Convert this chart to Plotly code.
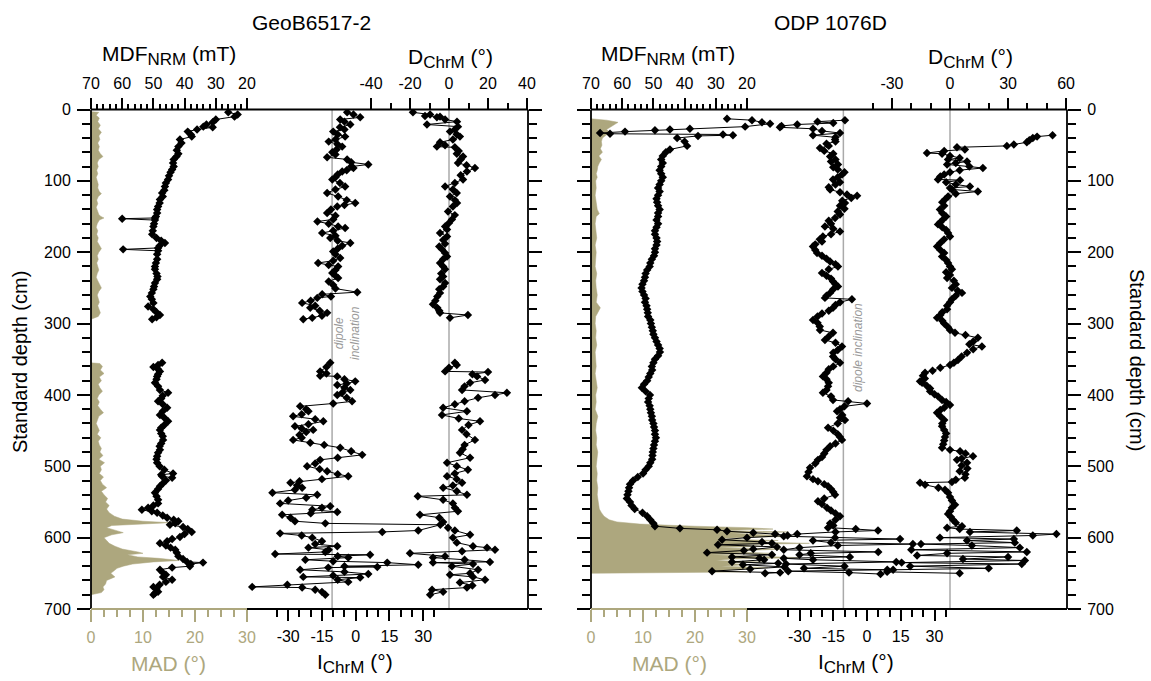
import plotly.graph_objects as go

# ---------------- data (depth cm, value) ----------------
geob_mad_upper = [(3,0),(4,1.5),(8,1.0),(12,1.6),(17,1.3),(22,1.8),(27,1.4),(32,2.0),(37,1.5),(42,1.7),(47,1.3),(52,1.6),
    (57,1.4),(62,1.8),(66,2.3),(70,1.5),(75,1.2),(80,1.4),(85,1.1),(90,1.3),(95,1.0),(100,1.2),(105,1.4),(110,1.3),
    (115,1.6),(118,2.0),(122,1.4),(127,1.1),(132,1.3),(137,1.0),(142,1.2),(147,1.5),(150,1.9),(152,2.5),(155,1.6),
    (160,1.2),(165,1.0),(170,1.3),(175,1.1),(180,1.4),(185,1.2),(190,1.6),(195,2.0),(200,1.5),(205,1.2),(210,1.4),
    (215,1.1),(220,1.3),(225,1.5),(230,1.2),(235,1.0),(240,1.3),(245,1.6),(250,2.0),(255,1.5),(260,1.2),(265,1.4),
    (270,1.6),(275,1.3),(280,1.5),(285,1.8),(290,1.4),(294,0)]
geob_mad_lower = [(355,0),(356,1.7),(360,2.2),(365,1.8),(370,2.5),(375,1.6),(380,2.0),(385,1.4),(390,1.7),(395,2.2),
    (400,1.5),(405,1.2),(410,1.6),(415,1.3),(420,1.8),(425,2.4),(430,1.5),(435,1.2),(440,1.0),(445,1.3),(450,1.6),
    (455,1.2),(460,1.9),(465,1.4),(470,1.6),(475,2.0),(480,1.7),(485,2.3),(490,1.5),(495,2.6),(500,1.8),(505,2.0),
    (510,1.6),(515,2.4),(520,1.8),(525,2.2),(530,3.0),(535,2.0),(540,2.5),(545,3.2),(550,2.8),(555,3.5),(560,3.0),
    (565,3.5),(570,4.5),(574,6),(577,10),(579,15.2),(581,9),(583,4),(586,3),(590,5),(593,6.2),(596,4),(600,2.5),
    (604,3),(608,3.5),(612,4.6),(616,6),(620,9),(622,10),(624,7),(627,9),(629,13),(631,15.2),(632,17),(634,12),
    (637,8),(640,6.2),(643,5),(646,4.5),(650,3.8),(655,4.6),(660,3),(665,2.8),(669,2.3),(673,2.5),(677,2),(680,0)]

geob_mdf_upper = [(4,26),(7,23),(10,24),(14,30),(18,31),(21,33),(24,34),(25,31),(28,36),(31,39),(35,38),(38,37.7),
    (42,41.5),(47,41),(52,42),(57,42.5),(62,42),(66,42.6),(70,43.5),(75,43.7),(80,43.5),(84,44),(88,44.5),(93,45),
    (98,45.3),(103,46),(108,46.3),(113,46.5),(117,47.2),(122,47),(126,47.9),(131,48),(136,48.5),(140,48.8),(145,48.8),
    (150,49.2),(152,49.5),(153,60),(155,49.5),(160,49.8),(164,50),(170,50.2),(175,50.4),(180,49),(184,47.5),(187,46.3),
    (191,48),(194,48.5),(196,59.7),(198,48.5),(203,48.8),(210,48.8),(215,49.2),(220,49.5),(224,49.5),(230,49),
    (234,48.7),(238,48.8),(243,49.5),(248,49.8),(252,50),(257,50.5),(262,51),(266,50.5),(271,50),(276,51.7),(280,50),
    (284,49),(288,47.9),(291,49),(294,50.4)]
geob_mdf_lower = [(355,47.2),(358,48.5),(361,50),(364,48.5),(367,47.9),(371,48.5),(374,48.8),(378,49),(383,49.5),
    (388,48.5),(393,47.9),(397,45.3),(401,47),(405,47.5),(409,48.5),(413,47),(418,45.6),(423,47),(428,47.9),(432,46.5),
    (437,45.3),(442,46.5),(446,47.5),(449,47.9),(454,47.5),(458,47),(463,46.9),(468,47.5),(472,48),(477,47.9),
    (481,48.5),(486,48.8),(490,49),(495,48.8),(500,48),(505,46.5),(510,43.7),(512,47.5),(514,47.2),(516,44),(520,46),
    (524,47),(528,47.9),(532,48.5),(537,49.5),(542,49),(547,48.5),(552,48.5),(555,50),(558,51.7),(561,53.7),(563,50.5),
    (565,48.8),(569,47),(572,45.6),(575,43.5),(577,42),(580,43),(582,44.7),(585,40.5),(588,39),(592,37.7),(595,40),
    (599,41.5),(602,44),(605,45.6),(608,47.9),(611,46),(614,44.5),(617,43),(621,42.5),(626,42),(630,40.5),(634,39.2),
    (635,34.1),(637,38),(640,38.3),(642,44),(645,47.9),(649,47),(652,46),(655,46.9),(659,44),(662,46),(666,48),
    (669,50),(672,49),(676,48.5),(678,49.5),(680,50)]

geob_inc_upper = [(4,-3.8),(7,-1),(11,2),(14,-6.9),(17,-5),(21,-2.4),(25,-7),(28,-5),(31,-10),(35,-8),(38,-4.7),
    (42,-9),(45,-12),(49,-8),(52,-6),(56,-8.5),(60,-10.4),(63,-9),(67,-12.7),(70,-3.8),(74,-2),(77,5.6),(80,-2),
    (82,-1),(85,-4),(87,-6),(91,-8),(95,-9),(98,-10.4),(103,-7),(108,-4.7),(112,-9),(117,-12.7),(122,-7.8),(127,-4),
    (131,-0.2),(134,-5),(136,-8.2),(140,-11),(145,-12.7),(149,-9),(154,-10),(157,-17),(160,-12),(164,-7.8),(166,-4.7),
    (170,-10),(173,-14.9),(177,-9),(180,-11.3),(184,-8),(187,-2.4),(191,-6),(195,-8),(199,-10),(203,-9),(208,-6.9),
    (212,-10),(215,-16.7),(218,-12),(220,-7.8),(225,-9),(229,-10.4),(233,-9),(236,-7.8),(241,-12),(246,-10),(251,-9),
    (256,0.7),(259,-14.9),(262,-11),(264,-17.1),(268,-20),(271,-23.8),(275,-18),(278,-20.2),(282,-16),(285,-12.7),
    (289,-15),(292,-19.3),(294,-23.3)]
geob_inc_lower = [(355,-11.3),(361,-13),(367,-15.8),(370,-13),(373,-15.8),(374,-8.2),(378,-5),(381,-0.2),(384,-4),
    (386,-8.2),(390,-5),(393,-2.4),(397,-6),(400,-8.2),(404,-4),(409,-1.6),(412,-10),(416,-24.7),(420,-22),(423,-21),
    (427,-24),(430,-27.8),(434,-18),(437,-14.4),(441,-21),(444,-27),(447,-24),(449,-18.9),(452,-22),(456,-25),
    (460,-24),(463,-27.8),(467,-20.2),(470,-14),(474,-6.9),(479,-2),(484,2.9),(488,-8),(491,-15.8),(496,-18),
    (500,-21.6),(504,-16),(507,-12.7),(511,-8),(514,-3.3),(518,-15),(521,-25),(523,-29),(527,-26),(530,-23.8),
    (533,-27),(537,-37),(540,-17.1),(544,-22),(548,-30),(552,-33.6),(556,-11.3),(558,-15),(561,-19.3),(564,-8.2),
    (566,-20),(568,-32.7),(572,-29),(577,-27),(580,-13.5),(582,37.6),(590,27.8),(592,11.8),(594,-33.6),(597,-24),
    (600,-19.3),(605,-15),(609,-18),(612,-8.2),(614,-21),(617,-12),(620,-13.5),(623,-35.8),(624,6.4),(626,-8),
    (628,-3.3),(631,-22.4),(633,-10),(635,14),(638,27.8),(640,-5),(641,9.6),(642,-12.2),(645,-24.7),(648,-5),
    (651,5.6),(653,-10),(655,-23.3),(656,2),(659,-8),(662,-3.3),(666,-30.4),(669,-46),(670,-23.8),(673,-18),
    (676,-15),(680,-13.5)]

geob_dec_upper = [(4,-18.5),(7,-9.7),(9,-12.3),(10,-4.6),(11,-6.2),(14,-2),(17,4.1),(21,-11.3),(24,4.6),(28,3),
    (31,0.5),(35,4),(38,5.6),(42,2),(46,-4.6),(50,-2),(52,-6.2),(53,3),(58,5),(62,4),(66,7.2),(70,6),(75,4.6),(78,9),
    (82,13.3),(87,9.2),(92,6),(98,7.2),(103,3),(108,-2),(112,2),(117,4),(122,0.5),(127,3),(131,4.1),(136,2),
    (143,-0.5),(148,3),(154,1.5),(159,0),(164,-2),(168,-1),(173,-4.6),(178,-1),(183,-3),(188,-2),(192,-5),(196,-3.6),
    (201,-2),(206,-1),(210,-3),(215,-4.6),(220,-3),(224,-2),(230,-4),(234,-3),(238,-4.6),(243,-2),(248,-3),(252,-5),
    (257,-4.6),(262,-6),(268,-7),(273,-8.2),(278,-6),(282,-5),(285,-4.6),(288,9.7),(292,0.5)]
geob_dec_lower = [(355,3),(358,4),(362,0),(367,-2),(368,20),(371,12),(374,14.4),(379,18.5),(383,10.8),(388,8),
    (393,6.7),(397,29.7),(400,23.6),(404,14.9),(409,8),(413,3),(418,-3),(423,9.2),(428,-3.6),(433,5),(437,15.9),
    (442,10),(449,6.7),(455,9),(463,13.3),(470,8),(476,7),(481,5.6),(488,10.8),(495,-1),(500,4),(505,9.7),(510,3),
    (514,-1),(518,4),(523,6.7),(527,2),(530,-3),(535,4),(540,9.2),(542,-16),(547,-3),(552,2),(558,3),(563,4.6),
    (568,-14.9),(572,-5),(578,-3),(586,-0.5),(590,3),(596,10.8),(600,2),(607,4),(612,12.3),(614,19.5),(617,23.6),
    (619,6.7),(622,-20),(626,-2),(628,-8.2),(631,8),(634,21),(635,-8.2),(637,12.3),(640,1.5),(645,14.9),(650,10.8),
    (652,0.5),(655,12.3),(659,18.5),(663,5.6),(667,12),(670,9.2),(673,-8.7),(676,-3),(680,-9.7)]

odp_mad = [(13,0),(15,3),(18,5.2),(21,4.5),(24,4),(28,3),(32,3.6),(36,2.8),(40,2.2),(45,2.0),(50,2.1),(55,1.8),
    (60,2.2),(65,1.5),(70,2.0),(75,1.6),(80,1.3),(85,1.2),(90,1.0),(95,1.2),(100,0.9),(110,1.0),(120,0.8),(130,1.0),
    (140,1.2),(146,1.6),(150,1.0),(160,0.8),(170,0.9),(180,1.1),(190,0.8),(200,1.0),(210,0.9),(220,0.8),(230,1.1),
    (240,0.9),(250,1.0),(260,1.2),(270,1.0),(278,1.8),(282,1.5),(290,0.9),(300,0.8),(310,1.0),(320,0.9),(330,1.1),
    (340,0.8),(350,0.9),(360,1.0),(370,0.8),(380,1.0),(390,1.2),(400,0.9),(410,1.0),(420,0.8),(430,1.3),(440,1.0),
    (450,0.9),(460,1.1),(470,1.0),(480,1.3),(490,1.1),(500,1.0),(510,1.2),(520,1.1),(530,1.3),(540,1.2),(550,1.4),
    (560,1.6),(565,2.0),(570,2.5),(575,3.5),(578,5),(581,9.4),(583,15),(584,20),(586,30),(588,35),(590,25),(592,38),
    (594,27),(596,33),(598,40),(600,28),(602,24),(604,36),(606,30),(608,42),(610,26),(612,33),(614,24),(616,37),
    (618,30),(620,28),(622,35),(624,23),(626,31),(628,40),(630,27),(632,24),(634,33),(636,26),(638,30),(640,25),
    (642,34),(644,28),(646,24),(648,30),(650,0)]

odp_mdf = [(13,26.4),(15,18.4),(18,15.2),(20,12.6),(24,20.6),(27,38.3),(28,44.7),(29,49.5),(31,59.1),(33,67.1),
    (34,63.9),(35,27.7),(36,24.5),(37,35.7),(40,42.4),(45,40),(51,39.2),(56,44.7),(60,46),(65,47),(70,47.5),(75,47),
    (80,47.5),(85,48),(90,47.5),(95,47),(100,47.5),(105,48),(110,48.5),(115,48),(120,48.5),(125,49),(130,48.8),
    (135,48.5),(140,48),(145,48.5),(150,48.5),(155,49),(160,48.5),(165,49),(170,49.5),(175,49.5),(180,49),(185,48.8),
    (190,49),(195,49.5),(200,49.5),(205,49.8),(210,50.5),(215,51),(220,51.2),(225,52),(230,52.5),(235,52.7),(240,53),
    (245,53.5),(250,53.8),(255,53.5),(260,53),(265,52.5),(270,52.7),(275,52.2),(280,52),(285,51.8),(290,51.7),
    (295,51),(300,50.8),(305,50.5),(310,50.2),(315,50),(320,49.5),(325,49),(330,48.5),(335,48),(340,47.9),(345,48.5),
    (350,49.5),(355,50),(360,50.5),(365,50.4),(370,51),(375,51.5),(380,52),(385,53),(390,53.7),(395,52.5),(400,51.1),
    (405,51.5),(410,51.7),(415,51.2),(420,51),(425,50.8),(430,50.5),(435,50.4),(440,50),(445,49.8),(450,49.5),
    (455,49.5),(460,49.2),(465,49.5),(470,49.8),(475,50),(480,50.2),(485,50.3),(490,50.4),(495,51),(500,51.5),
    (505,52.5),(510,53.3),(515,55),(520,56.5),(525,57.5),(530,57.8),(535,58),(540,58.3),(545,58.5),(550,57.5),
    (555,57),(560,56),(565,53.5),(570,52),(575,51),(580,50),(584,49.5),(587,41.5),(589,29.6),(591,26.4),(593,18),
    (595,11),(597,7),(600,20),(603,28),(606,15.2),(608,12),(610,29.3),(613,10.4),(616,18),(618,21),(621,32.8),
    (624,12),(627,24.8),(629,16),(631,14.5),(634,24.8),(636,10),(638,21.3),(641,8),(644,19),(647,31.2),(649,9.4),
    (650,14.2)]

odp_inc = [(15,-9.8),(17,-22),(19,-15),(21,-31),(23,-38),(25,-38.7),(27,-24),(30,-20),(33,-12),(36,-24),(39,-14),
    (42,-14.2),(45,-14),(48,-18),(51,-17),(54,-20.9),(58,-19),(62,-15),(66,-16.4),(70,-14),(73,-16),(77,-12.9),
    (81,-15),(84,-13),(88,-10),(91,-11.1),(95,-13),(98,-15.1),(102,-12),(105,-14),(109,-17),(112,-16.4),(116,-12),
    (119,-8.9),(121,-4.4),(124,-7),(128,-11),(131,-9.8),(135,-12),(139,-10),(143,-13),(147,-12),(152,-14.2),(156,-17),
    (160,-16),(164,-18.7),(167,-15),(171,-12),(175,-16),(178,-19.6),(182,-21),(185,-20),(189,-23),(192,-24),(197,-23),
    (201,-22.2),(205,-20),(209,-18),(213,-16.4),(217,-14),(220,-12.9),(224,-17),(229,-20),(233,-18),(237,-16),
    (241,-15.1),(245,-14),(248,-12.9),(252,-15),(257,-16.4),(261,-18),(264,-18.7),(266,-6.7),(270,-12),(274,-14),
    (278,-15.1),(282,-17),(286,-20),(290,-22),(295,-24),(299,-22),(304,-21),(309,-20.9),(313,-15.1),(318,-17),
    (323,-18.7),(327,-14),(332,-11.1),(337,-13),(341,-15),(346,-15.1),(350,-14),(355,-12),(360,-15),(364,-17),
    (369,-18),(374,-19.6),(378,-18),(383,-17),(388,-17.3),(393,-18),(397,-19.6),(402,-16),(407,-15.1),(409,-8.4),
    (412,0),(416,-10),(420,-12),(423,-13.3),(428,-11),(432,-12),(435,-9.8),(440,-13),(446,-17.3),(450,-15),(455,-13),
    (459,-12),(463,-11.1),(468,-14),(472,-16.4),(477,-18),(482,-19),(487,-20),(491,-21.8),(496,-23),(502,-25.3),
    (508,-26),(514,-26.7),(518,-24),(521,-21.8),(525,-19),(528,-17.3),(532,-16),(536,-15),(540,-14.2),(545,-19),
    (549,-21.8),(553,-20),(558,-17.8),(562,-16),(566,-14),(570,-12),(575,-14),(580,-16.4),(583,-15),(586,-17.3),
    (588,-5),(590,4.9),(592,-14),(595,-31),(598,-37),(600,-14.2),(602,14.7),(604,-24),(607,-16),(609,20.4),(611,-13),
    (614,-30),(617,-37),(620,5),(622,-25),(624,-30),(627,-7.6),(629,-37),(631,-24),(634,13),(637,-36),(640,-10),
    (643,-28),(645,9),(647,-35),(649,-8),(651,6)]

odp_dec = [(36,53),(38,45),(40,42.8),(43,41),(46,39.7),(49,33),(51,29.4),(53,3.6),(56,7.7),(58,-3),(61,-11.9),
    (62,-4.1),(65,0),(68,5),(70,-1),(73,8.8),(75,3),(77,-1.5),(80,10),(82,17),(85,5),(88,0),(91,-3),(94,-5),(98,-6.2),
    (99,5.2),(102,-2),(105,3),(108,10.3),(110,0),(112,1),(115,14.4),(118,3),(122,-1),(126,-2.6),(130,-4),(135,-3),
    (140,-5.2),(145,-4),(150,-2),(154,-3.6),(158,-5),(161,-6.2),(165,-4),(169,-2),(173,-1),(178,0),(182,-3),(187,-5),
    (192,-6.7),(197,-5),(201,-3),(206,-4.1),(211,-2),(215,-1),(220,0),(224,1),(228,-2),(232,0),(236,-1.5),(240,2),
    (245,3),(250,1),(254,4),(257,6.2),(261,3),(266,1),(270,0),(275,-1.5),(280,-1.5),(284,-4),(288,-5),(292,-6.7),
    (296,-4),(300,-3),(305,-1),(309,0),(313,2.6),(316,8),(320,14.4),(325,12),(329,10),(332,16.5),(336,12),(341,8.8),
    (346,6),(351,4.1),(355,2),(358,0),(362,-5),(366,-9),(369,-12.9),(373,-14),(377,-13),(381,-15.5),(383,-14.4),
    (387,-12),(391,-10.3),(395,-10.3),(399,-8),(402,-6.2),(407,-4.1),(410,-2),(414,0),(418,-3),(421,-5),(425,-6.7),
    (430,-5),(435,-3),(440,-4),(444,-4.1),(449,-3),(454,-2),(459,-2.6),(464,-3),(469,-3.5),(474,-4.1),(477,0),
    (479,5.2),(482,8),(486,11.9),(489,6),(491,3.6),(495,8.8),(499,6),(503,9),(507,5),(511,8),(516,7.7),(519,3),
    (522,1),(523,-15.5),(526,-12.9),(530,-6),(533,-2.6),(537,-1),(543,0),(548,1),(554,2.6),(558,1),(563,0),(567,-1),
    (571,0.5),(575,1.5),(579,3),(584,6.2),(586,-1.5),(588,5),(590,34.5),(592,10.3),(595,55),(597,42.8),(600,-5.2),
    (602,33),(604,8.8),(607,33.5),(609,-15),(611,11.3),(614,36.1),(617,-20),(620,39.7),(622,-1.5),(625,-17),(627,30),
    (630,6.7),(632,38.7),(635,-25),(637,37.1),(640,-20.6),(643,20),(645,-29.4),(648,-32.5),(650,5)]

dipole_inclination = -10.5

# ---------------- styling / layout constants ----------------
W, H = 1151, 681
FONT = "Liberation Sans, Arial, sans-serif"
TAN = "#ada77e"
YT, YB = 109.5, 609.0
P1 = (91.0, 528.0)
P2 = (591.0, 1067.0)

def px(x): return x / W
def py(y): return 1 - y / H

def rng(left, right, zero_px, ppu):
    return [(left - zero_px) / ppu, (right - zero_px) / ppu]

def split(pairs):
    return [p[0] for p in pairs], [p[1] for p in pairs]

fig = go.Figure()

def add_fill(pairs, xa, ya):
    d, v = split(pairs)
    fig.add_trace(go.Scatter(x=v, y=d, xaxis=xa, yaxis=ya, mode="lines", fill="tozerox",
                             fillcolor=TAN, line=dict(width=0.5, color=TAN), hoverinfo="skip"))

def add_line(pairs, xa, ya):
    d, v = split(pairs)
    fig.add_trace(go.Scatter(x=v, y=d, xaxis=xa, yaxis=ya, mode="lines+markers",
                             line=dict(width=1, color="black"),
                             marker=dict(symbol="diamond", size=6.5, color="black"), hoverinfo="skip"))

add_fill(geob_mad_upper, "x", "y")
add_fill(geob_mad_lower, "x", "y")
add_line(geob_mdf_upper, "x2", "y")
add_line(geob_mdf_lower, "x2", "y")
add_line(geob_inc_upper, "x3", "y")
add_line(geob_inc_lower, "x3", "y")
add_line(geob_dec_upper, "x4", "y")
add_line(geob_dec_lower, "x4", "y")
add_fill(odp_mad, "x5", "y2")
add_line(odp_mdf, "x6", "y2")
add_line(odp_inc, "x7", "y2")
add_line(odp_dec, "x8", "y2")

def xax(domain_px, r, side, major, labels, minor, color="black", overlay=None, anchor="y",
        majlen=11, minlen=6):
    d = dict(domain=[px(domain_px[0]), px(domain_px[1])], range=r, side=side, anchor=anchor,
             showgrid=False, zeroline=False, showline=False, ticks="outside", ticklen=majlen,
             tickwidth=1.5, tickcolor=color, tickmode="array", tickvals=major, ticktext=labels,
             tickfont=dict(size=16, color=color, family=FONT), fixedrange=True, automargin=False,
             ticklabelstandoff=2,
             minor=dict(tickmode="array", tickvals=minor, ticklen=minlen, tickwidth=1.5,
                        tickcolor=color, ticks="outside", showgrid=False))
    if overlay:
        d["overlaying"] = overlay
    return d

mad_major = [0, 10, 20, 30]
mad_minor = [2.5, 5, 7.5, 12.5, 15, 17.5, 22.5, 25, 27.5]
mdf_major = [70, 60, 50, 40, 30, 20]
mdf_minor = [v for v in range(22, 70, 2) if v % 10]
inc_major = [-30, -15, 0, 15, 30]
inc_minor = [-35, -25, -20, -10, -5, 5, 10, 20, 25, 35]
dec1_major = [-40, -20, 0, 20, 40]
dec1_minor = [-30, -10, 10, 30]
dec2_major = [-30, 0, 30, 60]
dec2_minor = [-40, -20, -10, 10, 20, 40, 50]
depth_major = list(range(0, 701, 100))
depth_minor = [v for v in range(20, 700, 20) if v % 100]

layout = dict(width=W, height=H, margin=dict(l=0, r=0, t=0, b=0), showlegend=False,
              paper_bgcolor="white", plot_bgcolor="white", font=dict(family=FONT, color="black"))

layout["xaxis"] = xax(P1, rng(P1[0], P1[1], 91.0, 5.2), "bottom", mad_major, [str(v) for v in mad_major],
                      mad_minor, color=TAN, majlen=12, minlen=7)
layout["xaxis2"] = xax(P1, [70 - (P1[0] - 91.0) / 3.12, 70 - (P1[1] - 91.0) / 3.12], "top", mdf_major,
                       [str(v) for v in mdf_major], mdf_minor, overlay="x", majlen=11, minlen=5)
layout["xaxis3"] = xax(P1, rng(P1[0], P1[1], 355.7, 2.25), "bottom", inc_major, [str(v) for v in inc_major],
                       inc_minor, overlay="x", majlen=11, minlen=7)
layout["xaxis4"] = xax(P1, rng(P1[0], P1[1], 449.0, 1.95), "top", dec1_major, [str(v) for v in dec1_major],
                       dec1_minor, overlay="x", majlen=11, minlen=6)
layout["xaxis5"] = xax(P2, rng(P2[0], P2[1], 591.0, 5.2), "bottom", mad_major, [str(v) for v in mad_major],
                       mad_minor, color=TAN, anchor="y2", majlen=12, minlen=7)
layout["xaxis6"] = xax(P2, [70 - (P2[0] - 591.0) / 3.12, 70 - (P2[1] - 591.0) / 3.12], "top", mdf_major,
                       [str(v) for v in mdf_major], mdf_minor, overlay="x5", anchor="y2", majlen=11, minlen=5)
layout["xaxis7"] = xax(P2, rng(P2[0], P2[1], 867.0, 2.25), "bottom", inc_major, [str(v) for v in inc_major],
                       inc_minor, overlay="x5", anchor="y2", majlen=11, minlen=7)
layout["xaxis8"] = xax(P2, rng(P2[0], P2[1], 950.0, 1.935), "top", dec2_major, [str(v) for v in dec2_major],
                       dec2_minor, overlay="x5", anchor="y2", majlen=11, minlen=6)

def yax(side, anchor):
    return dict(domain=[py(YB), py(YT)], range=[700, 0], side=side, anchor=anchor, showgrid=False,
                zeroline=False, showline=False, mirror="ticks", ticks="outside", ticklen=13, tickwidth=1.5,
                tickcolor="black", tickmode="array", tickvals=depth_major,
                ticktext=[str(v) for v in depth_major], tickfont=dict(size=16, family=FONT),
                fixedrange=True, automargin=False, ticklabelstandoff=3,
                minor=dict(tickmode="array", tickvals=depth_minor, ticklen=8, tickwidth=1.5,
                           tickcolor="black", ticks="outside", showgrid=False))

layout["yaxis"] = yax("left", "x")
layout["yaxis2"] = yax("right", "x5")

shapes = []
def seg(x0, y0, x1, y1, color="black", w=1.8):
    shapes.append(dict(type="line", xref="paper", yref="paper", x0=px(x0), y0=py(y0), x1=px(x1), y1=py(y1),
                       line=dict(color=color, width=w), layer="above"))
for (l, r) in (P1, P2):
    seg(l, YT, r, YT)
    seg(l, YT, l, YB)
    seg(r, YT, r, YB)
    seg(l + 156, YB, r, YB)
    seg(l, YB, l + 156, YB, color=TAN)
for xa, ya, val in (("x3", "y", dipole_inclination), ("x4", "y", 0), ("x7", "y2", dipole_inclination),
                    ("x8", "y2", 0)):
    shapes.append(dict(type="line", xref=xa, yref=ya, x0=val, x1=val, y0=0, y1=700,
                       line=dict(color="#aaaaaa", width=1.5), layer="below"))
layout["shapes"] = shapes

ann = []
def text(t, x, y, size, color="black", angle=0, italic=False):
    ann.append(dict(text=t, x=px(x), y=py(y), xref="paper", yref="paper", showarrow=False,
                    xanchor="center", yanchor="middle", textangle=angle,
                    font=dict(size=size, color=color, family=FONT,
                              style="italic" if italic else "normal")))

SUB = '<sub><span style="font-size:17px">{}</span></sub>'
text("GeoB6517-2", 311, 22, 21)
text("ODP 1076D", 830, 22, 21)
text("MDF" + SUB.format("NRM") + " (mT)", 169, 56, 21)
text("D" + SUB.format("ChrM") + " (°)", 450, 58, 21)
text("MDF" + SUB.format("NRM") + " (mT)", 668, 56, 21)
text("D" + SUB.format("ChrM") + " (°)", 970, 58, 21)
text("MAD (°)", 168, 663, 21, color=TAN)
text("MAD (°)", 669, 663, 21, color=TAN)
text("I" + SUB.format("ChrM") + " (°)", 355, 663, 21)
text("I" + SUB.format("ChrM") + " (°)", 856, 663, 21)
text("Standard depth (cm)", 20, 362, 20, angle=-90)
text("Standard depth (cm)", 1137, 360, 20, angle=90)
text("dipole<br>inclination", 347, 333, 12, color="#999999", angle=-90, italic=True)
text("dipole inclination", 858, 348, 12, color="#999999", angle=-90, italic=True)
layout["annotations"] = ann

fig.update_layout(**layout)
fig.write_html("out.html")
